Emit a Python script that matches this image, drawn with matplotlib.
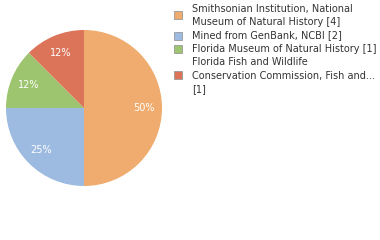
import matplotlib
matplotlib.use("Agg")
import matplotlib.pyplot as plt
from matplotlib.patches import Rectangle
import numpy as np

labels = ["Smithsonian Institution, National\nMuseum of Natural History [4]",
          "Mined from GenBank, NCBI [2]",
          "Florida Museum of Natural History [1]",
          "Florida Fish and Wildlife\nConservation Commission, Fish and...\n[1]"]
values = [4, 2, 1, 1]
pct_labels = ["50%", "25%", "12%", "12%"]
colors = ["#efac6e", "#9dbbe0", "#9dc56f", "#dc745a"]

W, H = 380, 240
fig = plt.figure(figsize=(3.8, 2.4), dpi=100)
ax = fig.add_axes([6 / W, (H - 186) / H, 156 / W, 156 / H])
wedges, texts = ax.pie(values, colors=colors, startangle=90, counterclock=False,
                       wedgeprops=dict(linewidth=0))
theta = 90.0
total = sum(values)
for v, t in zip(values, pct_labels):
    span = 360.0 * v / total
    mid = np.deg2rad(theta - span / 2)
    theta -= span
    ax.text(0.77 * np.cos(mid), 0.77 * np.sin(mid), t, ha="center", va="center",
            color="white", fontsize=7, family="DejaVu Sans")
ax.set_xlim(-1, 1)
ax.set_ylim(-1, 1)
ax.set_aspect("equal")
ax.axis("off")

text_centers = [15.5, 35, 49, 75.5]
square_centers = [14.5, 35.5, 49, 75]
for lab, c, yc, ys in zip(labels, colors, text_centers, square_centers):
    fig.patches.append(Rectangle((174 / W, 1 - (ys + 4) / H), 8 / W, 8 / H,
                                 transform=fig.transFigure, facecolor=c,
                                 edgecolor="#999999", linewidth=0.6))
    fig.text(192 / W, 1 - yc / H, lab, ha="left", va="center", fontsize=7,
             color="#333333", linespacing=1.45, family="DejaVu Sans")

fig.savefig("out.png", dpi=100)
